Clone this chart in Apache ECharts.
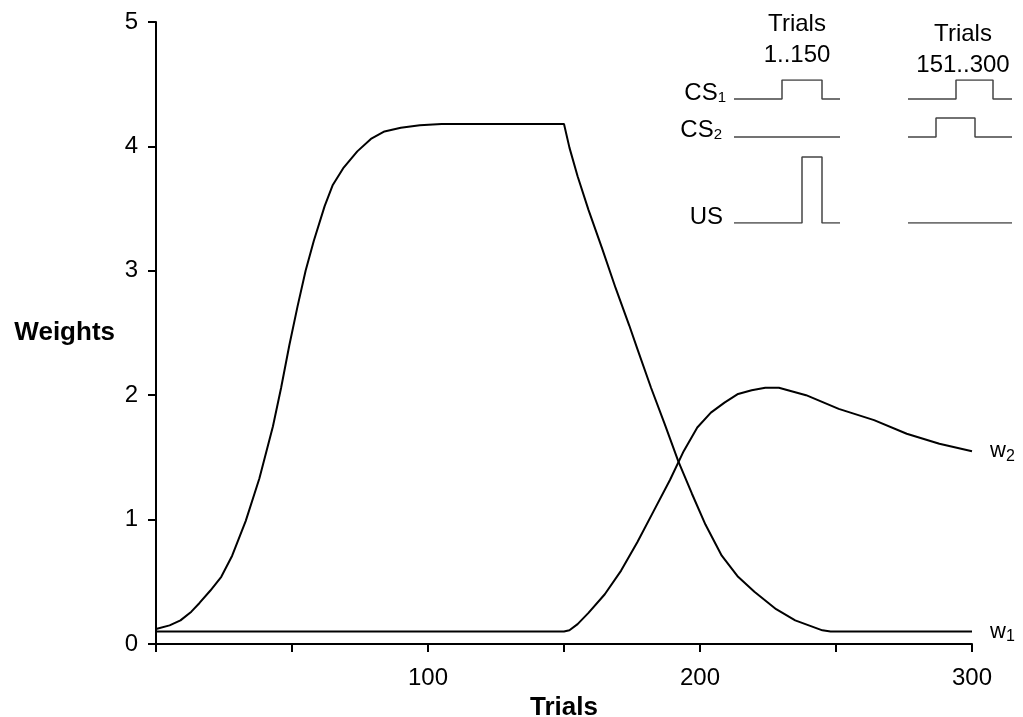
<!DOCTYPE html>
<html>
<head>
<meta charset="utf-8">
<script src="https://cdn.jsdelivr.net/npm/echarts@6/dist/echarts.min.js"></script>
<style>
  html, body { margin: 0; padding: 0; background: #fff; }
  #chart { width: 1023px; height: 717px; }
</style>
</head>
<body>
<div id="chart"></div>
<script>
// 权重曲线数据
const w1Trials = [0, 5, 9, 13, 16, 20, 24, 28, 33, 38, 43, 46, 49, 52, 55, 58, 62, 65, 69, 74, 79, 84, 90, 97, 105, 150,
  152, 155, 159, 164, 169, 174, 177, 182, 187, 192, 197, 202, 208, 214, 220, 228, 235, 240, 245, 248, 300];
const w1Values = [0.12, 0.15, 0.19, 0.26, 0.33, 0.43, 0.54, 0.71, 0.99, 1.33, 1.75, 2.06, 2.40, 2.71, 3.00, 3.24, 3.52, 3.69, 3.83, 3.96, 4.06, 4.12, 4.15, 4.17, 4.18, 4.18,
  3.99, 3.76, 3.49, 3.18, 2.86, 2.56, 2.37, 2.06, 1.77, 1.47, 1.21, 0.96, 0.71, 0.54, 0.42, 0.28, 0.19, 0.15, 0.11, 0.10, 0.10];

const w2Trials = [0, 150, 152, 155, 159, 165, 171, 177, 183, 189, 194, 199, 204, 209, 214, 219, 224, 229, 239, 251, 264, 276, 288, 300];
const w2Values = [0.10, 0.10, 0.11, 0.16, 0.25, 0.40, 0.59, 0.82, 1.07, 1.32, 1.55, 1.74, 1.86, 1.94, 2.01, 2.04, 2.06, 2.06, 2.00, 1.89, 1.80, 1.69, 1.61, 1.55];

// 刺激示意图（单位为示意坐标）
const cs1A = [[0, 124], [48, 124], [48, 143], [88, 143], [88, 124], [106, 124]];
const cs2A = [[0, 86], [106, 86]];
const usA = [[0, 0], [68, 0], [68, 66], [88, 66], [88, 0], [106, 0]];
const cs1B = [[174, 124], [222, 124], [222, 143], [259, 143], [259, 124], [278, 124]];
const cs2B = [[174, 86], [202, 86], [202, 105], [241, 105], [241, 86], [278, 86]];
const usB = [[174, 0], [278, 0]];

const xTicks = [100, 200, 300];
const yTicks = [0, 1, 2, 3, 4, 5];

const font = 'Liberation Sans, Arial, sans-serif';
const zip = (xs, ys) => xs.map((x, i) => [x, ys[i]]);

function stim(data) {
  return {
    type: 'line', xAxisIndex: 1, yAxisIndex: 1, data: data, symbol: 'none',
    lineStyle: { color: '#444', width: 1.5 }, silent: true
  };
}

function endLabel(sub) {
  return {
    show: true, distance: 18, formatter: '{a|w}{b|' + sub + '}',
    rich: {
      a: { fontFamily: font, fontSize: 22, color: '#000' },
      b: { fontFamily: font, fontSize: 16, color: '#000', padding: [10, 0, 0, 0] }
    }
  };
}

function sideText(text, sub, x, y) {
  const rich = {
    a: { font: '24px ' + font, fill: '#000' },
    b: { font: '15px ' + font, fill: '#000', padding: [10, 0, 0, 0] }
  };
  return {
    type: 'text', x: x, y: y,
    style: { text: sub ? '{a|' + text + '}{b|' + sub + '}' : '{a|' + text + '}', rich: rich, align: 'right', verticalAlign: 'middle' }
  };
}

function plainText(text, x, y) {
  return {
    type: 'text', x: x, y: y,
    style: { text: text, font: '24px ' + font, fill: '#000', align: 'center', verticalAlign: 'middle' }
  };
}

const chart = echarts.init(document.getElementById('chart'));
chart.setOption({
  backgroundColor: '#fff',
  animation: false,
  grid: [
    { left: 156, right: 51, top: 22, bottom: 73, outerBoundsMode: 'none' },
    { left: 734, right: 11, top: 80, bottom: 494, outerBoundsMode: 'none' }
  ],
  xAxis: [
    {
      type: 'value', min: 0, max: 300, interval: 50,
      name: 'Trials', nameLocation: 'middle', nameGap: 43,
      nameTextStyle: { fontFamily: font, fontSize: 26, fontWeight: 'bold', color: '#000' },
      axisLine: { show: true, lineStyle: { color: '#000', width: 2 } },
      axisTick: { show: true, length: 8, lineStyle: { color: '#000', width: 2 } },
      axisLabel: {
        color: '#000', fontFamily: font, fontSize: 24, margin: 22,
        formatter: v => xTicks.includes(v) ? String(v) : ''
      },
      splitLine: { show: false }
    },
    { type: 'value', gridIndex: 1, min: 0, max: 278, show: false }
  ],
  yAxis: [
    {
      type: 'value', min: 0, max: 5, interval: 1,
      name: 'Weights', nameLocation: 'middle', nameGap: 41, nameRotate: 0,
      nameTextStyle: { fontFamily: font, fontSize: 26, fontWeight: 'bold', color: '#000' },
      axisLine: { show: true, lineStyle: { color: '#000', width: 2 } },
      axisTick: { show: true, length: 8, lineStyle: { color: '#000', width: 2 } },
      axisLabel: {
        color: '#000', fontFamily: font, fontSize: 24, margin: 18,
        formatter: v => yTicks.includes(v) ? String(v) : ''
      },
      splitLine: { show: false }
    },
    { type: 'value', gridIndex: 1, min: 0, max: 143, show: false }
  ],
  series: [
    {
      name: 'w1', type: 'line', data: zip(w1Trials, w1Values), symbol: 'none',
      lineStyle: { color: '#000', width: 2 }, endLabel: endLabel('1')
    },
    {
      name: 'w2', type: 'line', data: zip(w2Trials, w2Values), symbol: 'none',
      lineStyle: { color: '#000', width: 2 }, endLabel: endLabel('2')
    },
    stim(cs1A), stim(cs2A), stim(usA), stim(cs1B), stim(cs2B), stim(usB)
  ],
  graphic: [
    plainText('Trials', 797, 24),
    plainText('1..150', 797, 55),
    plainText('Trials', 963, 34),
    plainText('151..300', 963, 65),
    sideText('CS', '1', 726, 93),
    sideText('CS', '2', 722, 130),
    sideText('US', '', 723, 217)
  ]
});
</script>
</body>
</html>
